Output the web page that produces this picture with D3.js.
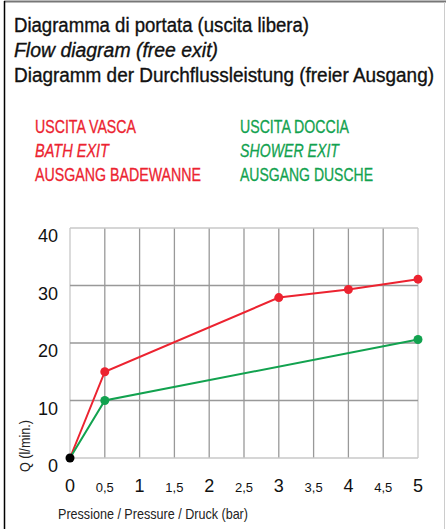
<!DOCTYPE html>
<html>
<head>
<meta charset="utf-8">
<script src="https://cdn.jsdelivr.net/npm/d3@7"></script>
<style>
  body { margin: 0; background: #fff; }
  text { font-family: "Liberation Sans", Arial, sans-serif; }
</style>
</head>
<body>
<script>
// flow diagram data
var pressure = [0, 0.5, 3, 4, 5];
var bathFlow = [0, 15, 27.9, 29.3, 31.1];
var showerPressure = [0, 0.5, 5];
var showerFlow = [0, 10, 20.6];
var yTicks = [0, 10, 20, 30, 40];
var xTicks = [0, 0.5, 1, 1.5, 2, 2.5, 3, 3.5, 4, 4.5, 5];
var xTickLabels = ['0', '0,5', '1', '1,5', '2', '2,5', '3', '3,5', '4', '4,5', '5'];
var titleLines = ['Diagramma di portata (uscita libera)', 'Flow diagram (free exit)', 'Diagramm der Durchflussleistung (freier Ausgang)'];
var titleWidths = [295, 204, 420];
var bathLegend = ['USCITA VASCA', 'BATH EXIT', 'AUSGANG BADEWANNE'];
var bathWidths = [101, 74, 166];
var showerLegend = ['USCITA DOCCIA', 'SHOWER EXIT', 'AUSGANG DUSCHE'];
var showerWidths = [109, 99, 133];

var width = 446;
var height = 529;
var red = '#ec2330';
var green = '#12a24f';

var svg = d3.select('body').append('svg')
  .attr('width', width)
  .attr('height', height);

// frame
svg.append('line').attr('x1', 4).attr('x2', 446).attr('y1', 1.5).attr('y2', 1.5)
  .attr('stroke', '#777').attr('stroke-width', 2);
svg.append('line').attr('x1', 4.5).attr('x2', 4.5).attr('y1', 1).attr('y2', 529)
  .attr('stroke', '#000').attr('stroke-width', 1.5);
svg.append('line').attr('x1', 444.5).attr('x2', 444.5).attr('y1', 2).attr('y2', 529)
  .attr('stroke', '#ccc').attr('stroke-width', 1);

// condensed look: squeeze text to the width it has in the picture
var squeeze = function(sel, widths) {
  sel.attr('textLength', function(d, i){ return widths[i]; })
    .attr('lengthAdjust', 'spacingAndGlyphs');
};

// titles
svg.selectAll('.title').data(titleLines).enter().append('text')
  .attr('class', 'title')
  .attr('x', 14)
  .attr('y', function(d, i){ return 32 + i * 25; })
  .attr('font-size', 19.5)
  .attr('font-style', function(d, i){ return i == 1 ? 'italic' : 'normal'; })
  .attr('fill', '#111')
  .attr('stroke', '#111')
  .attr('stroke-width', 0.35)
  .text(function(d){ return d; })
  .call(squeeze, titleWidths);

// legend
var legend = function(lines, widths, x, color) {
  svg.selectAll(null).data(lines).enter().append('text')
    .attr('x', x)
    .attr('y', function(d, i){ return 133 + i * 24; })
    .attr('font-size', 18)
    .attr('font-style', function(d, i){ return i == 1 ? 'italic' : 'normal'; })
    .attr('fill', color)
    .attr('stroke', color)
    .attr('stroke-width', 0.3)
    .text(function(d){ return d; })
    .call(squeeze, widths);
};
legend(bathLegend, bathWidths, 35, red);
legend(showerLegend, showerWidths, 240, green);

// scales
var x = d3.scaleLinear().domain([0, 5]).range([70, 418]);
var y = d3.scaleLinear().domain([0, 40]).range([458, 228]);

// grid
var grid = svg.append('g');
grid.selectAll('.vgrid').data(xTicks).enter().append('line')
  .attr('x1', function(d){ return x(d); })
  .attr('x2', function(d){ return x(d); })
  .attr('y1', y(0)).attr('y2', y(40))
  .attr('stroke', function(d){ return (d == 0 || d == 5) ? '#c8c8c8' : '#999'; })
  .attr('stroke-width', 1.3);
grid.selectAll('.hgrid').data(yTicks).enter().append('line')
  .attr('x1', x(0)).attr('x2', x(5))
  .attr('y1', function(d){ return y(d); })
  .attr('y2', function(d){ return y(d); })
  .attr('stroke', function(d){ return (d == 0 || d == 40) ? '#c8c8c8' : '#999'; })
  .attr('stroke-width', 1.3);

// axis labels
svg.selectAll('.ylab').data(yTicks).enter().append('text')
  .attr('x', 58)
  .attr('y', function(d){ return y(d) + 14; })
  .attr('text-anchor', 'end')
  .attr('font-size', 18)
  .attr('fill', '#111')
  .text(function(d){ return d; });

svg.selectAll('.xlab').data(xTicks).enter().append('text')
  .attr('x', function(d){ return x(d); })
  .attr('y', 492)
  .attr('text-anchor', 'middle')
  .attr('font-size', function(d){ return d % 1 == 0 ? 18 : 13; })
  .attr('fill', '#111')
  .text(function(d, i){ return xTickLabels[i]; });

svg.append('text')
  .attr('x', 58).attr('y', 519)
  .attr('font-size', 15)
  .attr('fill', '#222')
  .attr('textLength', 190)
  .attr('lengthAdjust', 'spacingAndGlyphs')
  .text('Pressione / Pressure / Druck (bar)');

svg.append('text')
  .attr('transform', 'translate(30,446) rotate(-90)')
  .attr('text-anchor', 'middle')
  .attr('font-size', 14)
  .attr('fill', '#222')
  .attr('textLength', 52)
  .attr('lengthAdjust', 'spacingAndGlyphs')
  .text('Q (l/min.)');

// series
var line = d3.line()
  .x(function(d){ return x(d[0]); })
  .y(function(d){ return y(d[1]); });

var series = [
  {color: red, pts: d3.zip(pressure, bathFlow)},
  {color: green, pts: d3.zip(showerPressure, showerFlow)}
];

series.forEach(function(s) {
  svg.append('path')
    .attr('d', line(s.pts))
    .attr('fill', 'none')
    .attr('stroke', s.color)
    .attr('stroke-width', 2);
  svg.selectAll(null).data(s.pts.slice(1)).enter().append('circle')
    .attr('cx', function(d){ return x(d[0]); })
    .attr('cy', function(d){ return y(d[1]); })
    .attr('r', 4.5)
    .attr('fill', s.color);
});

// origin
svg.append('circle').attr('cx', x(0)).attr('cy', y(0)).attr('r', 4.5).attr('fill', '#000');
</script>
</body>
</html>
